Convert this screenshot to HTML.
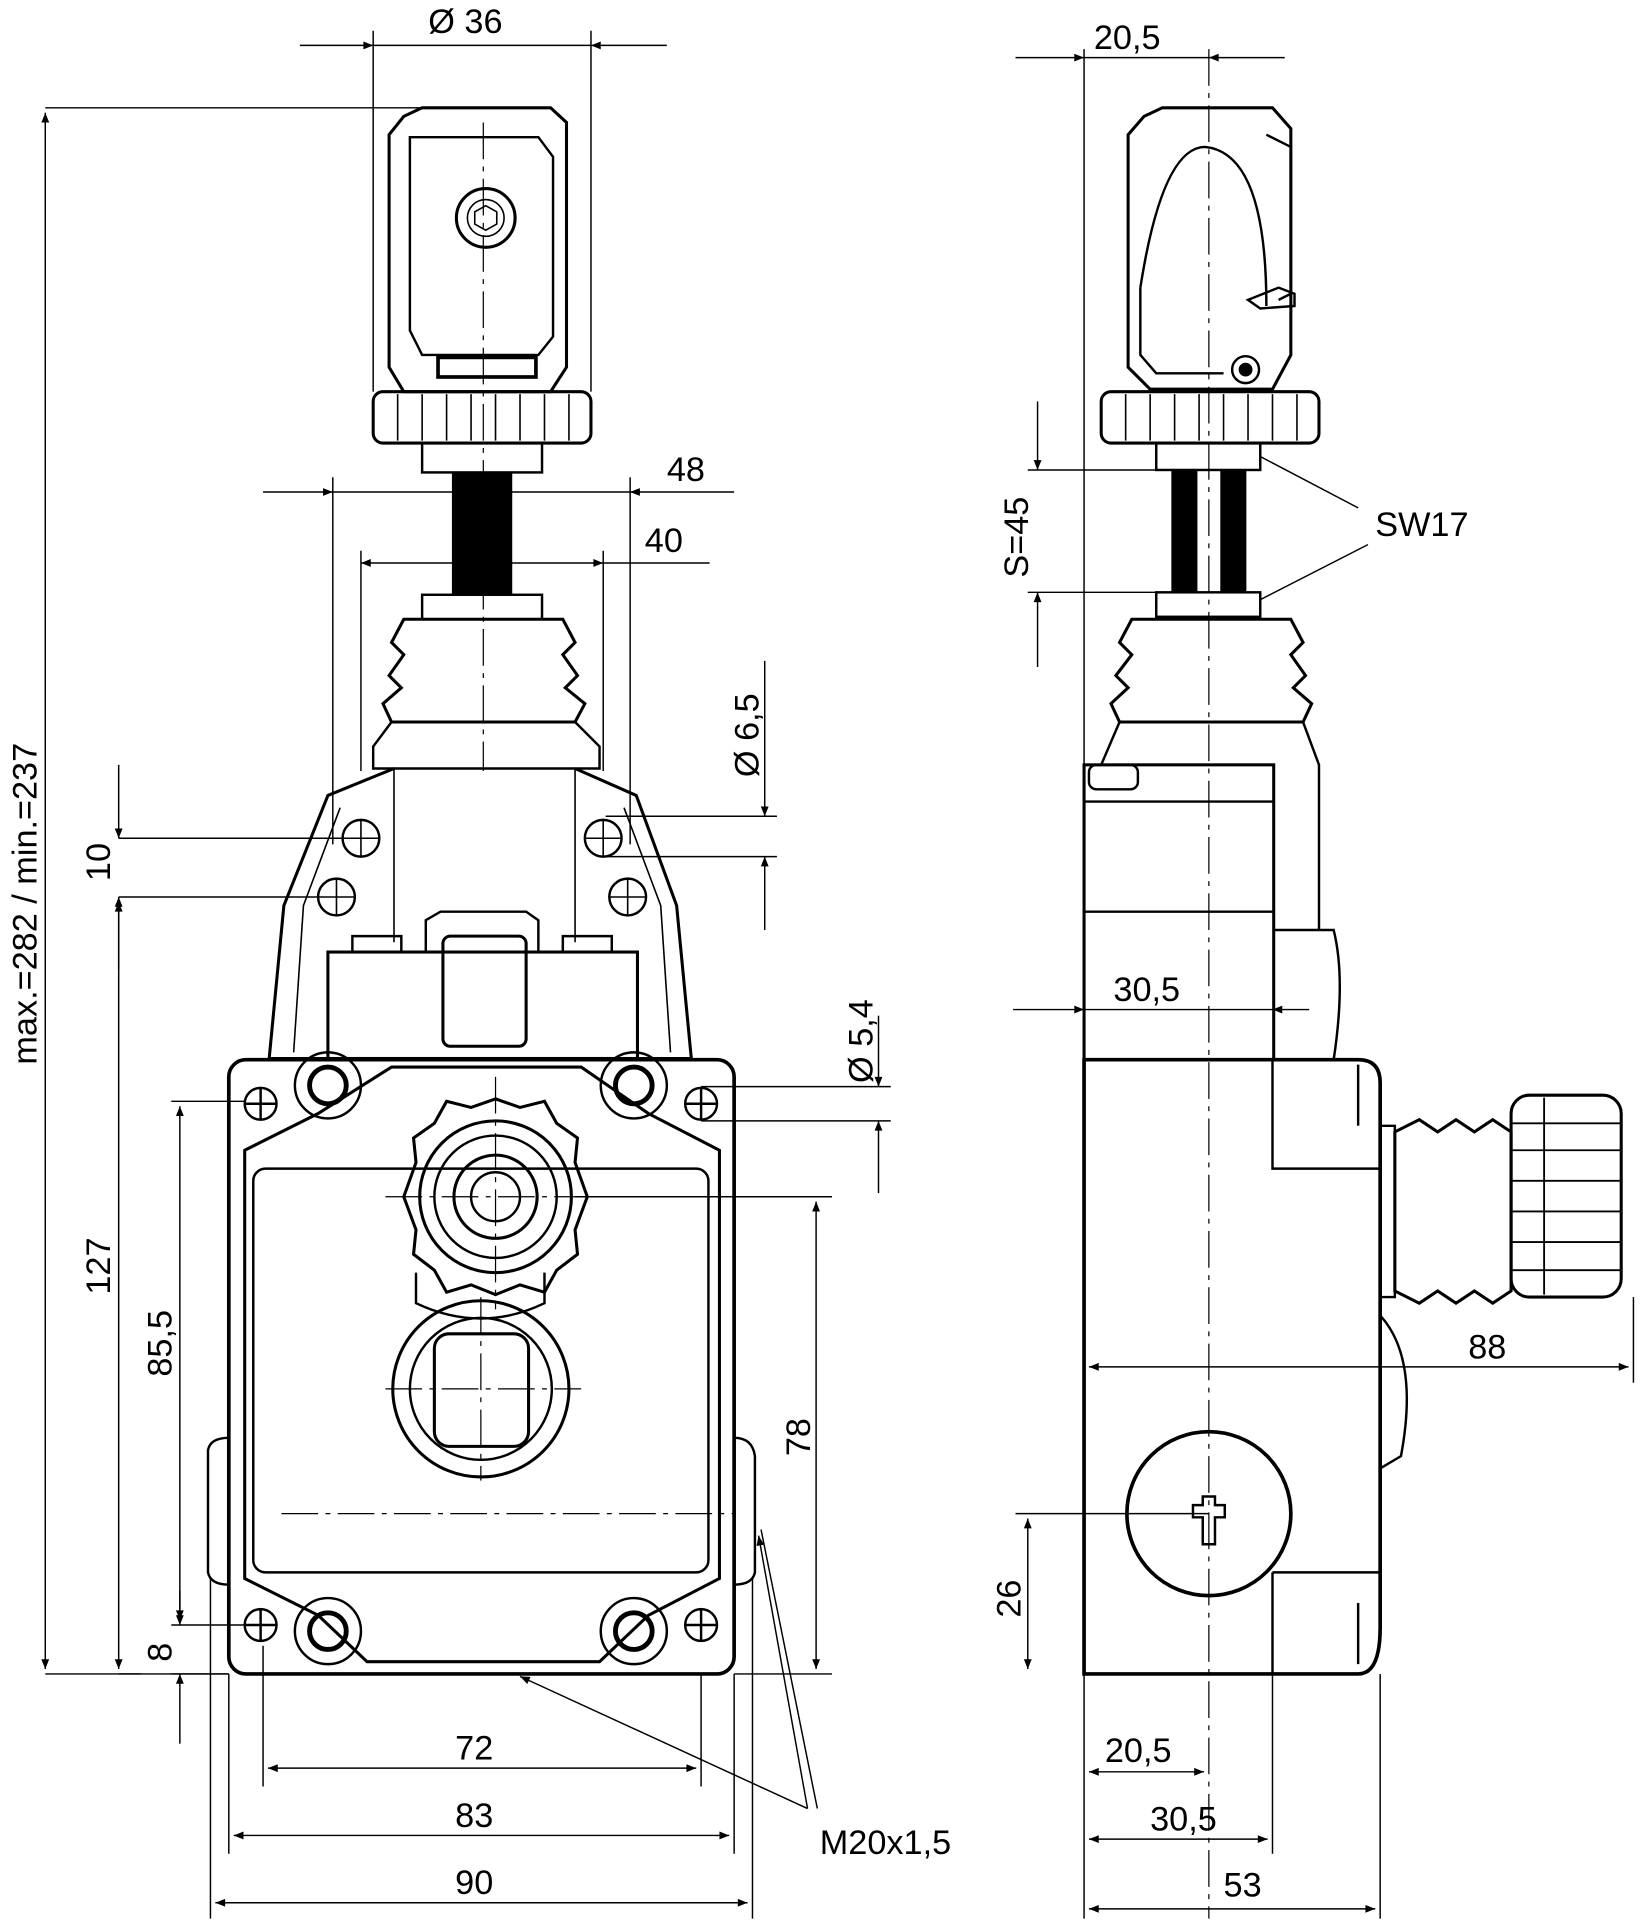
<!DOCTYPE html>
<html><head><meta charset="utf-8"><style>
html,body{margin:0;padding:0;background:#fff}
svg{display:block}
text{font-family:"Liberation Sans",sans-serif;font-size:28px;fill:#000}
</style></head><body>
<svg width="1642" height="1920" viewBox="0 0 1342 1569" xmlns="http://www.w3.org/2000/svg">
<defs>
<marker id="a" viewBox="0 0 10 10" refX="10" refY="5" markerWidth="14" markerHeight="8" orient="auto-start-reverse" markerUnits="userSpaceOnUse"><path d="M0,1 L10,5 L0,9z" fill="#000"/></marker>
</defs>
<g fill="none" stroke="#000" stroke-width="1.3">
<path d="M330,95 L345,88 L450,88 L463,100 L463,300 L450,320 L330,320 L318,300 L318,110 Z" stroke-width="2.5"/>
<path d="M335,112 L440,112 L452,128 L452,275 L440,290 L345,290 L335,270 Z" stroke-width="2"/>
<circle cx="397" cy="178" r="24" stroke-width="2.5"/><circle cx="397" cy="178" r="15"/>
<polygon points="397,168 406,173 406,183 397,188 388,183 388,173"/>
<rect x="358" y="292" width="80" height="16" stroke-width="3"/>
<rect x="305" y="320" width="178" height="42" rx="8" stroke-width="2.5"/>
<path d="M325,322 V360 M345,322 V360 M365,322 V360 M385,322 V360 M405,322 V360 M425,322 V360 M445,322 V360 M465,322 V360"/>
<rect x="345" y="362" width="98" height="24" stroke-width="2"/>
<rect x="370" y="386" width="48" height="100" fill="#000"/>
<rect x="345" y="486" width="98" height="20" stroke-width="2"/>
<path d="M330,506 L460,506 L470,525 L460,535 L472,552 L462,562 L478,575 L470,590 L320,590 L313,575 L328,562 L318,552 L330,535 L320,525 Z" stroke-width="2.5"/>
<path d="M320,590 L305,610 L305,628 L490,628 L490,610 L470,590" stroke-width="2"/>
<path d="M322,628 L268,650 L232,740 L220,865 L565,865 L553,740 L520,650 L470,628" stroke-width="2.5"/>
<path d="M322,628 V770 M470,628 V770 M278,660 L248,740 L240,860 M510,660 L540,740 L548,860"/>
<rect x="268" y="778" width="253" height="87" stroke-width="2.5"/>
<path d="M288,778 V765 H328 V778 M460,778 V765 H500 V778 M348,778 V752 L360,745 H430 L440,752 V778" stroke-width="2"/>
<rect x="362" y="765" width="68" height="90" rx="6" stroke-width="2.5"/>
<circle cx="295" cy="685" r="15" stroke-width="2"/><path d="M280,685h30M295,670v30"/>
<circle cx="493" cy="685" r="15" stroke-width="2"/><path d="M478,685h30M493,670v30"/>
<circle cx="275" cy="733" r="15" stroke-width="2"/><path d="M260,733h30M275,718v30"/>
<circle cx="513" cy="733" r="15" stroke-width="2"/><path d="M498,733h30M513,718v30"/>
<rect x="187" y="866" width="413" height="502" rx="14" stroke-width="3"/>
<path d="M200,940 L260,910 L320,872 L475,872 L530,910 L588,940 L588,1290 L530,1320 L490,1358 L300,1358 L260,1320 L200,1290 Z" stroke-width="2.5"/>
<rect x="207" y="955" width="372" height="330" rx="10" stroke-width="2"/>
<path d="M170,1185 Q172,1175 187,1175 V1295 Q172,1295 170,1285 Z M600,1175 Q615,1175 617,1190 V1285 Q615,1295 600,1295 Z" stroke-width="2"/>
<g stroke-width="2">
<circle cx="213" cy="902" r="13"/><path d="M200,902h26M213,889v26"/>
<circle cx="573" cy="902" r="13"/><path d="M560,902h26M573,889v26"/>
<circle cx="213" cy="1328" r="13"/><path d="M200,1328h26M213,1315v26"/>
<circle cx="573" cy="1328" r="13"/><path d="M560,1328h26M573,1315v26"/>
</g>
<g stroke-width="4">
<circle cx="268" cy="887" r="15"/><circle cx="518" cy="887" r="15"/>
<circle cx="268" cy="1333" r="15"/><circle cx="518" cy="1333" r="15"/>
</g>
<circle cx="268" cy="887" r="27" stroke-width="2"/><circle cx="518" cy="887" r="27" stroke-width="2"/>
<circle cx="268" cy="1333" r="27" stroke-width="2"/><circle cx="518" cy="1333" r="27" stroke-width="2"/>
<path d="M405,898 L425,905 L445,900 L455,918 L472,930 L470,950 L480,978 L470,1005 L472,1025 L455,1038 L445,1056 L425,1050 L405,1058 L385,1050 L365,1056 L355,1038 L338,1025 L340,1005 L330,978 L340,950 L338,930 L355,918 L365,900 L385,905 Z" stroke-width="2.5"/>
<circle cx="405" cy="978" r="62" stroke-width="2.5"/>
<circle cx="405" cy="978" r="50" stroke-width="2"/>
<circle cx="405" cy="978" r="34" stroke-width="2.5"/>
<circle cx="405" cy="978" r="20" stroke-width="2"/>
<path d="M340,1040 V1065 Q393,1090 445,1065 V1040" stroke-width="2"/>
<circle cx="393" cy="1135" r="72" stroke-width="2.5"/>
<circle cx="393" cy="1135" r="58" stroke-width="2"/>
<rect x="355" y="1090" width="77" height="92" rx="12" stroke-width="2.5"/>
<path d="M395,100 V630 M405,880 V1070 M393,1060 V1210 M315,978 H495 M315,1135 H475 M230,1237 H600" stroke-dasharray="30,6,4,6" stroke-width="1"/>
<g stroke-width="1.2">
<path d="M305,25 V320 M483,25 V320 M305,37 H483"/>
<line x1="245" y1="37" x2="305" y2="37" marker-end="url(#a)"/>
<line x1="545" y1="37" x2="483" y2="37" marker-end="url(#a)"/>
<path d="M37,88 H395 M37,1368 H187"/>
<line x1="37" y1="92" x2="37" y2="1364" marker-start="url(#a)" marker-end="url(#a)"/>
<path d="M97,685 H280 M97,733 H260 M97,1368 H115"/>
<line x1="97" y1="625" x2="97" y2="685" marker-end="url(#a)"/>
<line x1="97" y1="792" x2="97" y2="733" marker-end="url(#a)"/>
<line x1="97" y1="737" x2="97" y2="1364" marker-start="url(#a)" marker-end="url(#a)"/>
<path d="M140,900 H200 M140,1328 H200 M140,1368 H187"/>
<line x1="147" y1="904" x2="147" y2="1324" marker-start="url(#a)" marker-end="url(#a)"/>
<line x1="147" y1="1300" x2="147" y2="1328" marker-end="url(#a)"/>
<line x1="147" y1="1425" x2="147" y2="1368" marker-end="url(#a)"/>
<path d="M272,390 V690 M515,390 V690 M295,450 V630 M493,450 V630"/>
<line x1="215" y1="402" x2="272" y2="402" marker-end="url(#a)"/>
<line x1="272" y1="402" x2="515" y2="402"/>
<line x1="600" y1="402" x2="515" y2="402" marker-end="url(#a)"/>
<line x1="295" y1="460" x2="493" y2="460" marker-start="url(#a)" marker-end="url(#a)"/>
<line x1="493" y1="460" x2="580" y2="460"/>
<path d="M495,667 H635 M495,700 H635"/>
<line x1="625" y1="540" x2="625" y2="667" marker-end="url(#a)"/>
<line x1="625" y1="760" x2="625" y2="700" marker-end="url(#a)"/>
<path d="M573,888 H728 M573,916 H728"/>
<line x1="718" y1="830" x2="718" y2="888" marker-end="url(#a)"/>
<line x1="718" y1="975" x2="718" y2="916" marker-end="url(#a)"/>
<path d="M470,978 H680 M600,1368 H680 M573,1368 V1460 M215,1345 V1460 M187,1368 V1515 M600,1368 V1515 M172,1290 V1568 M615,1290 V1568"/>
<line x1="667" y1="982" x2="667" y2="1364" marker-start="url(#a)" marker-end="url(#a)"/>
<line x1="219" y1="1445" x2="569" y2="1445" marker-start="url(#a)" marker-end="url(#a)"/>
<line x1="191" y1="1500" x2="596" y2="1500" marker-start="url(#a)" marker-end="url(#a)"/>
<line x1="176" y1="1555" x2="611" y2="1555" marker-start="url(#a)" marker-end="url(#a)"/>
<line x1="660" y1="1478" x2="425" y2="1370" marker-end="url(#a)"/>
<line x1="660" y1="1478" x2="620" y2="1255" marker-end="url(#a)"/>
<line x1="668" y1="1478" x2="622" y2="1250"/>
</g>
<path d="M988,40 V1568" stroke-dasharray="30,6,4,6" stroke-width="1"/>
<path d="M935,95 L950,88 L1040,88 L1055,105 L1055,290 L1040,318 L940,318 L922,300 L922,110 Z" stroke-width="2.5"/>
<path d="M932,235 Q950,120 985,120 Q1035,125 1035,250" stroke-width="2"/>
<path d="M932,235 V290 L945,305 L1000,305 M1035,110 L1055,120 V240 L1045,245" stroke-width="2"/>
<path d="M1020,245 L1045,235 L1058,240 L1058,250 L1030,252 Z" stroke-width="2"/>
<circle cx="1018" cy="302" r="11" stroke-width="2"/><circle cx="1018" cy="302" r="5" fill="#000"/>
<rect x="900" y="320" width="178" height="42" rx="8" stroke-width="2.5"/>
<path d="M920,322 V360 M940,322 V360 M960,322 V360 M980,322 V360 M1000,322 V360 M1020,322 V360 M1040,322 V360 M1060,322 V360"/>
<rect x="945" y="362" width="85" height="22" stroke-width="2"/>
<rect x="958" y="384" width="20" height="100" fill="#000"/><rect x="998" y="384" width="20" height="100" fill="#000"/>
<rect x="945" y="484" width="85" height="20" stroke-width="2"/>
<path d="M925,506 L1055,506 L1065,525 L1055,535 L1067,552 L1057,562 L1072,575 L1065,590 L915,590 L908,575 L922,562 L912,552 L925,535 L915,525 Z" stroke-width="2.5"/>
<path d="M915,590 L900,625 M1065,590 L1078,625 V760" stroke-width="2"/>
<rect x="886" y="625" width="155" height="241" stroke-width="2.5"/>
<path d="M886,655 H1040 M886,745 H1040" stroke-width="2"/>
<rect x="890" y="625" width="40" height="20" rx="6" stroke-width="2"/>
<path d="M1040,760 H1090 Q1100,800 1090,866 H1040" stroke-width="2"/>
<path d="M886,866 H1110 Q1128,866 1128,885 V1330 Q1128,1368 1110,1368 H886 Z" stroke-width="3"/>
<path d="M1040,866 V955 H1128 M1040,1285 V1368 M1040,1285 H1128 M1110,870 V920 M1110,1310 V1360" stroke-width="2"/>
<path d="M1128,1075 Q1160,1110 1145,1190 L1128,1200" stroke-width="2"/>
<path d="M1128,920 H1140 V1060 H1128" stroke-width="2"/>
<path d="M1140,925 L1160,915 L1175,925 L1190,915 L1205,925 L1220,915 L1235,925 V1055 L1220,1065 L1205,1055 L1190,1065 L1175,1055 L1160,1065 L1140,1055 Z" stroke-width="2.5"/>
<rect x="1235" y="895" width="90" height="165" rx="15" stroke-width="2.5"/>
<path d="M1262,897 V1058 M1235,918 H1325 M1235,940 H1325 M1235,965 H1325 M1235,990 H1325 M1235,1015 H1325 M1235,1038 H1325" stroke-width="1.5"/>
<circle cx="988" cy="1237" r="67" stroke-width="3"/>
<path d="M975,1222 H983 V1215 H993 V1222 H1001 V1232 H993 V1254 H983 V1232 H975 Z" transform="translate(0,8)" stroke-width="2"/>
<g stroke-width="1.2">
<path d="M886,40 V866"/>
<line x1="830" y1="47" x2="886" y2="47" marker-end="url(#a)"/>
<line x1="886" y1="47" x2="988" y2="47"/>
<line x1="1050" y1="47" x2="988" y2="47" marker-end="url(#a)"/>
<path d="M840,384 H945 M840,484 H945"/>
<line x1="848" y1="328" x2="848" y2="384" marker-end="url(#a)"/>
<line x1="848" y1="545" x2="848" y2="484" marker-end="url(#a)"/>
<path d="M1030,373 L1110,415 M1030,490 L1118,445"/>
<line x1="828" y1="825" x2="886" y2="825" marker-end="url(#a)"/>
<line x1="886" y1="825" x2="1040" y2="825"/>
<line x1="1070" y1="825" x2="1040" y2="825" marker-end="url(#a)"/>
<path d="M1335,1060 V1130"/>
<line x1="890" y1="1117" x2="1331" y2="1117" marker-start="url(#a)" marker-end="url(#a)"/>
<path d="M830,1237 H988"/>
<line x1="840" y1="1241" x2="840" y2="1364" marker-start="url(#a)" marker-end="url(#a)"/>
<path d="M886,1368 V1568 M1040,1368 V1515 M1128,1368 V1568"/>
<line x1="890" y1="1448" x2="984" y2="1448" marker-start="url(#a)" marker-end="url(#a)"/>
<line x1="890" y1="1503" x2="1036" y2="1503" marker-start="url(#a)" marker-end="url(#a)"/>
<line x1="890" y1="1560" x2="1124" y2="1560" marker-start="url(#a)" marker-end="url(#a)"/>
</g>
</g>
<text x="350" y="27">Ø 36</text>
<text x="545" y="393">48</text>
<text x="527" y="451">40</text>
<text transform="translate(620,635) rotate(-90)">Ø 6,5</text>
<text transform="translate(713,885) rotate(-90)">Ø 5,4</text>
<text transform="translate(90,720) rotate(-90)">10</text>
<text transform="translate(90,1058) rotate(-90)">127</text>
<text transform="translate(140,1125) rotate(-90)">85,5</text>
<text transform="translate(140,1358) rotate(-90)">8</text>
<text transform="translate(30,870) rotate(-90)">max.=282 / min.=237</text>
<text transform="translate(662,1190) rotate(-90)">78</text>
<text x="372" y="1438">72</text>
<text x="372" y="1493">83</text>
<text x="372" y="1548">90</text>
<text x="670" y="1515">M20x1,5</text>
<text x="894" y="40">20,5</text>
<text transform="translate(840,472) rotate(-90)">S=45</text>
<text x="1124" y="438">SW17</text>
<text x="910" y="818">30,5</text>
<text x="1200" y="1110">88</text>
<text transform="translate(834,1322) rotate(-90)">26</text>
<text x="903" y="1440">20,5</text>
<text x="940" y="1496">30,5</text>
<text x="1000" y="1550">53</text>
</svg>
</body></html>
